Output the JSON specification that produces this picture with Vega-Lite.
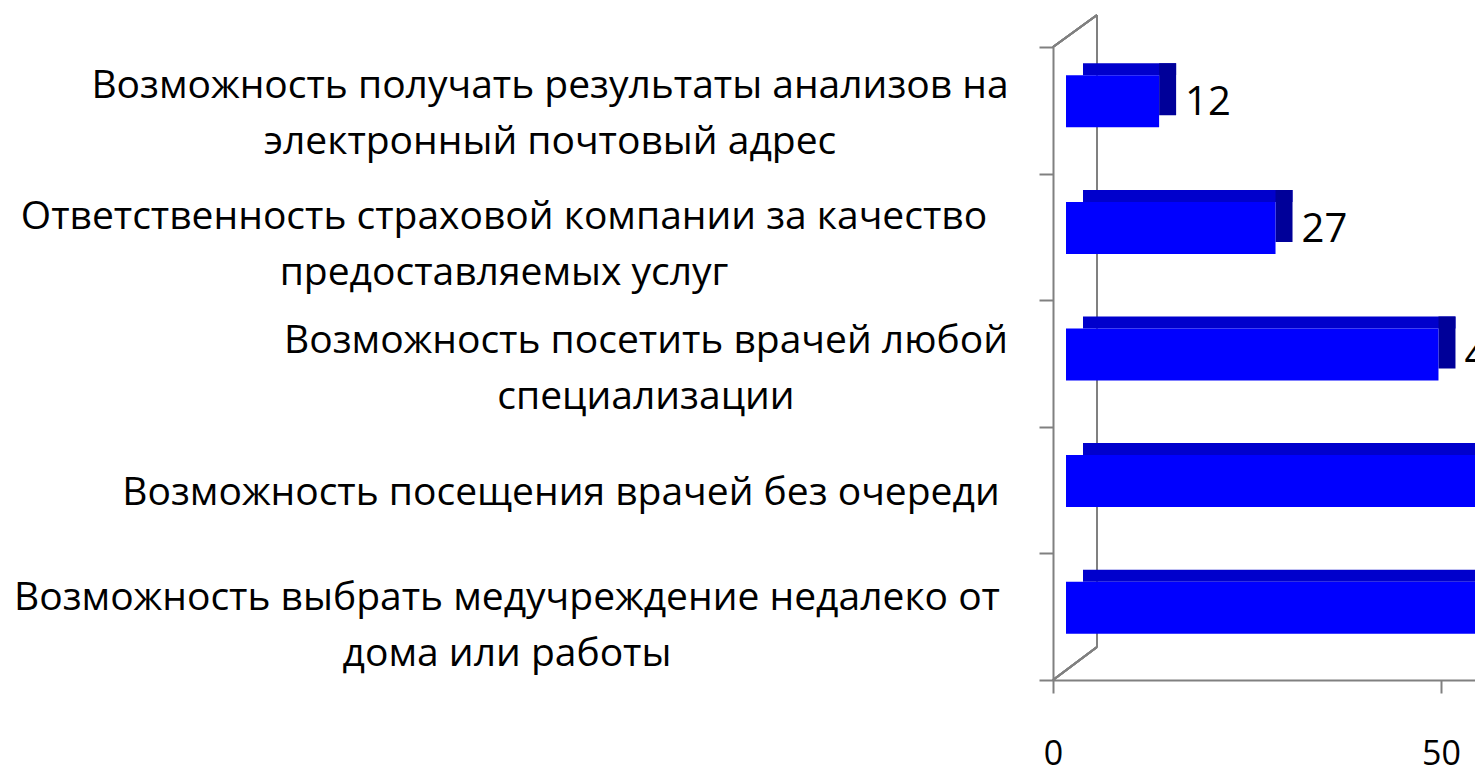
{
  "$schema": "https://vega.github.io/schema/vega-lite/v6.json",
  "width": 776,
  "height": 633,
  "padding": {"left": 1053, "top": 47, "right": 0, "bottom": 91},
  "autosize": {"type": "none"},
  "background": "white",
  "config": {"view": {"stroke": null}, "font": "Open Sans"},
  "data": {"values": [
    {"item": "Возможность получать результаты анализов на|электронный почтовый адрес", "value": 12},
    {"item": "Ответственность страховой компании за качество|предоставляемых услуг", "value": 27},
    {"item": "Возможность посетить врачей любой|специализации", "value": 48},
    {"item": "Возможность посещения врачей без очереди", "value": 58},
    {"item": "Возможность выбрать медучреждение недалеко от|дома или работы", "value": 64}
  ]},
  "encoding": {
    "y": {"field": "item", "type": "nominal", "sort": null,
      "scale": {"paddingInner": 0, "paddingOuter": 0},
      "axis": {"title": null, "labels": false, "tickBand": "extent", "tickSize": 14, "tickWidth": 2, "tickColor": "#808080",
        "domainColor": "#808080", "domainWidth": 2}},
    "x": {"field": "value", "type": "quantitative",
      "scale": {"domain": [0, 100], "nice": false},
      "axis": {"title": null, "values": [0, 50, 100], "grid": false, "tickSize": 13, "tickWidth": 2,
        "tickColor": "#808080", "domainColor": "#808080", "domainWidth": 2, "labelFontSize": 34,
        "labelPadding": 44, "labelColor": "#000000", "labelFlush": false}}
  },
  "layer": [
    {
      "mark": {"type": "rule", "color": "#808080", "strokeWidth": 2, "yOffset": -32, "y2Offset": -33},
      "encoding": {
        "x": {"datum": 5.67, "type": "quantitative"},
        "y": {"value": 0},
        "y2": {"value": "height"}
      }
    },
    {
      "mark": {"type": "rule", "color": "#808080", "strokeWidth": 2, "y2Offset": -32},
      "encoding": {
        "x": {"datum": 0, "type": "quantitative"},
        "x2": {"datum": 5.67},
        "y": {"value": 0},
        "y2": {"value": 0}
      }
    },
    {
      "mark": {"type": "rule", "color": "#808080", "strokeWidth": 2, "y2Offset": -33},
      "encoding": {
        "x": {"datum": 0, "type": "quantitative"},
        "x2": {"datum": 5.67},
        "y": {"value": "height"},
        "y2": {"value": "height"}
      }
    },
    {
      "mark": {"type": "bar", "color": "#0000CC", "size": 12, "yOffset": -41, "xOffset": 30, "x2Offset": 27}
    },
    {
      "mark": {"type": "bar", "color": "#000099", "size": 52, "yOffset": -21, "xOffset": 30, "x2Offset": 13},
      "encoding": {
        "x": {"field": "value", "type": "quantitative", "stack": null},
        "x2": {"field": "value"}
      }
    },
    {
      "mark": {"type": "bar", "color": "#0000FF", "size": 52, "yOffset": -9, "xOffset": 13, "x2Offset": 13}
    },
    {
      "mark": {"type": "text", "align": "left", "baseline": "middle", "dx": 39, "dy": -7, "fontSize": 40, "color": "#000000"},
      "encoding": {
        "x": {"field": "value", "type": "quantitative", "stack": null},
        "text": {"field": "value", "type": "quantitative"}
      }
    },
    {
      "transform": [{"filter": "indexof(datum.item, 'электрон') >= 0"}],
      "mark": {"type": "text", "align": "center", "baseline": "middle", "lineBreak": "|", "lineHeight": 56, "fontSize": 39, "color": "#000000", "dx": -503, "dy": -24},
      "encoding": {
        "x": {"datum": 0, "type": "quantitative"},
        "text": {"field": "item", "type": "nominal"}
      }
    },
    {
      "transform": [{"filter": "indexof(datum.item, 'предостав') >= 0"}],
      "mark": {"type": "text", "align": "center", "baseline": "middle", "lineBreak": "|", "lineHeight": 56, "fontSize": 39, "color": "#000000", "dx": -549, "dy": -20},
      "encoding": {
        "x": {"datum": 0, "type": "quantitative"},
        "text": {"field": "item", "type": "nominal"}
      }
    },
    {
      "transform": [{"filter": "indexof(datum.item, 'специализ') >= 0"}],
      "mark": {"type": "text", "align": "center", "baseline": "middle", "lineBreak": "|", "lineHeight": 56, "fontSize": 39, "color": "#000000", "dx": -407, "dy": -23},
      "encoding": {
        "x": {"datum": 0, "type": "quantitative"},
        "text": {"field": "item", "type": "nominal"}
      }
    },
    {
      "transform": [{"filter": "indexof(datum.item, 'очереди') >= 0"}],
      "mark": {"type": "text", "align": "center", "baseline": "middle", "lineBreak": "|", "lineHeight": 56, "fontSize": 39, "color": "#000000", "dx": -492, "dy": 3},
      "encoding": {
        "x": {"datum": 0, "type": "quantitative"},
        "text": {"field": "item", "type": "nominal"}
      }
    },
    {
      "transform": [{"filter": "indexof(datum.item, 'работы') >= 0"}],
      "mark": {"type": "text", "align": "center", "baseline": "middle", "lineBreak": "|", "lineHeight": 56, "fontSize": 39, "color": "#000000", "dx": -546, "dy": -19},
      "encoding": {
        "x": {"datum": 0, "type": "quantitative"},
        "text": {"field": "item", "type": "nominal"}
      }
    }
  ]
}
